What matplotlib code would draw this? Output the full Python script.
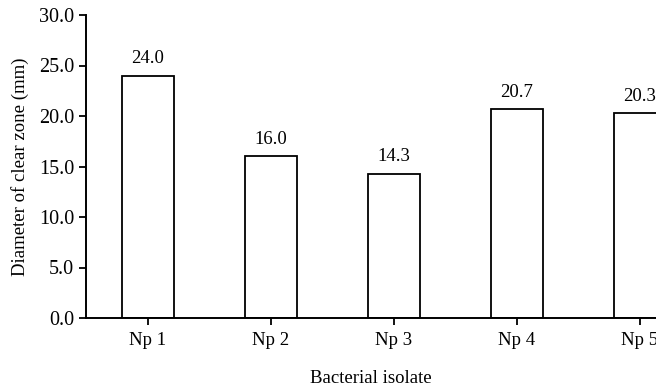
import matplotlib
matplotlib.use("Agg")
from matplotlib import pyplot as plt

isolates = ['Np 1', 'Np 2', 'Np 3', 'Np 4', 'Np 5']
diameter = [24.0, 16.0, 14.3, 20.7, 20.3]
y_ticks = [0, 5, 10, 15, 20, 25, 30]

plt.rcParams['font.family'] = ['Liberation Serif', 'DejaVu Serif']
plt.rcParams['font.size'] = 13.5

fig = plt.figure(figsize=(6.56, 3.87), dpi=100)
ax = fig.add_axes([86 / 656, 69 / 387, 1 - 86 / 656, 303 / 387])

x = list(range(len(isolates)))
bars = ax.bar(x, diameter, width=0.42, color='white', edgecolor='black', linewidth=1.3)

for xi, v in zip(x, diameter):
    ax.annotate('%.1f' % v, (xi, v), xytext=(0, 6), textcoords='offset points',
                ha='center', va='bottom', fontsize=13.5)

# the reference crops the last category at the right edge
ax.set_xlim(-0.504, 4.13)
ax.set_ylim(0, 30)
ax.set_yticks(y_ticks)
ax.set_yticklabels(['%.1f' % t for t in y_ticks])
ax.set_xticks(x)
ax.set_xticklabels(isolates)

ax.spines['top'].set_visible(False)
ax.spines['right'].set_visible(False)
ax.spines['left'].set_linewidth(1.4)
ax.spines['bottom'].set_linewidth(1.4)
ax.tick_params(axis='both', direction='out', length=5, width=1.3)
ax.tick_params(axis='y', pad=3.5, labelsize=14.5)
ax.tick_params(axis='x', pad=5, labelsize=13.5)

ax.set_ylabel('Diameter of clear zone (mm)', fontsize=13.5, labelpad=7)
ax.set_xlabel('Bacterial isolate', fontsize=13.5, labelpad=15)

fig.savefig('out.png', dpi=100)
